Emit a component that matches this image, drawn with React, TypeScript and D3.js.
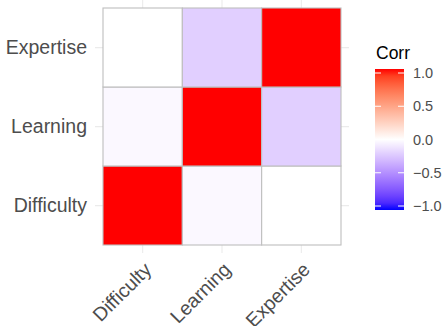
import React from "react";
import * as d3 from "d3";

const vars = ["Difficulty", "Learning", "Expertise"];
const corrDifficulty = [1, -0.03, 0];
const corrLearning = [-0.03, 1, -0.2];
const corrExpertise = [0, -0.2, 1];
const legendTicks = [-1, -0.5, 0, 0.5, 1];

export default function App() {
  const W = 443, H = 326;
  const x = d3.scaleBand<string>().domain(vars).range([103, 341]);
  const y = d3.scaleBand<string>().domain(vars).range([245, 8]);
  const color = d3
    .scaleLinear<string>()
    .domain([-1, 0, 1])
    .range(["blue", "white", "red"])
    .interpolate(d3.interpolateLab);
  const rows = [corrDifficulty, corrLearning, corrExpertise];
  const cells: { r: string; c: string; v: number }[] = [];
  vars.forEach((r, i) =>
    vars.forEach((c, j) => cells.push({ r, c, v: rows[i][j] }))
  );
  const bw = x.bandwidth();
  const px0 = 95, px1 = 349, py0 = 0, py1 = 253;

  const ly = d3.scaleLinear().domain([-1, 1]).range([206, 73]);
  const barX = 375, barW = 29, barTop = 69, barBot = 210;
  const fmt = d3.format(".1f");
  const stops = d3.range(0, 21).map((i) => {
    const t = i / 20;
    return { off: t, col: color(1 - 2 * t) };
  });
  const font = "'Liberation Sans', Arial, Helvetica, sans-serif";

  return (
    <svg
      width={W}
      height={H}
      style={{ position: "absolute", left: 0, top: 0, background: "white" }}
      fontFamily={font}
    >
      <defs>
        <linearGradient id="lg" x1="0" y1={barTop} x2="0" y2={barBot} gradientUnits="userSpaceOnUse">
          {stops.map((s, i) => (
            <stop key={i} offset={s.off} stopColor={s.col} />
          ))}
        </linearGradient>
      </defs>
      {vars.map((v) => (
        <line key={"gx" + v} x1={x(v)! + bw / 2} x2={x(v)! + bw / 2} y1={py0} y2={py1} stroke="#ebebeb" strokeWidth={1.1} />
      ))}
      {vars.map((v) => (
        <line key={"gy" + v} y1={y(v)! + bw / 2} y2={y(v)! + bw / 2} x1={px0} x2={px1} stroke="#ebebeb" strokeWidth={1.1} />
      ))}
      {cells.map((d, i) => (
        <rect
          key={i}
          x={x(d.c)!}
          y={y(d.r)!}
          width={bw}
          height={y.bandwidth()}
          fill={color(d.v)}
          stroke="#bebebe"
          strokeWidth={1.1}
        />
      ))}
      {vars.map((v) => (
        <text key={"yl" + v} x={87} y={y(v)! + y.bandwidth() / 2} dy="0.35em" textAnchor="end" fontSize={19.5} fill="#4d4d4d">
          {v}
        </text>
      ))}
      {vars.map((v) => {
        const cx = x(v)! + bw / 2;
        const cy = 261;
        return (
          <text
            key={"xl" + v}
            transform={`translate(${cx},${cy}) rotate(-45)`}
            textAnchor="end"
            dy="0.72em"
            fontSize={19.5}
            fill="#4d4d4d"
          >
            {v}
          </text>
        );
      })}
      <text x={376} y={59} fontSize={17.5} fill="#000">Corr</text>
      <rect x={barX} y={barTop} width={barW} height={barBot - barTop} fill="url(#lg)" />
      {legendTicks.map((t) => (
        <g key={"lt" + t}>
          <line x1={barX} x2={barX + 6} y1={ly(t)} y2={ly(t)} stroke="white" strokeWidth={1} />
          <line x1={barX + barW - 6} x2={barX + barW} y1={ly(t)} y2={ly(t)} stroke="white" strokeWidth={1} />
          <text x={413} y={ly(t)} dy="0.35em" fontSize={14.5} fill="#4d4d4d">
            {fmt(t)}
          </text>
        </g>
      ))}
    </svg>
  );
}
